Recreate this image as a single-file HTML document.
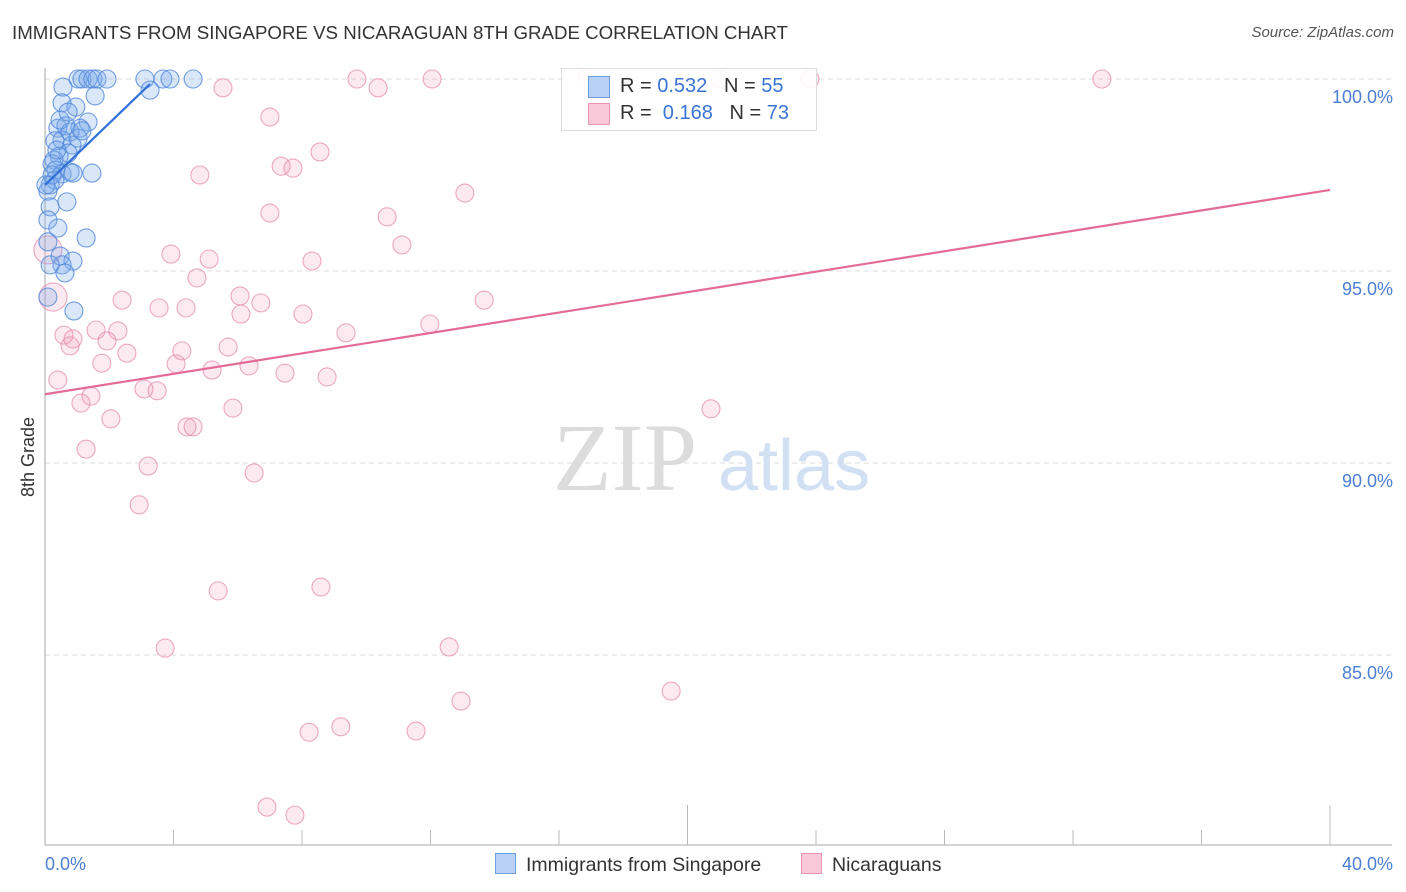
<!DOCTYPE html>
<html><head><meta charset="utf-8"><style>
body{margin:0;background:#fff;font-family:"Liberation Sans",sans-serif}
#wrap{position:relative;width:1406px;height:892px;overflow:hidden}
.t{position:absolute;white-space:nowrap}
</style></head><body>
<div id="wrap">
<div class="t" style="left:12px;top:22px;font-size:18.7px;color:#333">IMMIGRANTS FROM SINGAPORE VS NICARAGUAN 8TH GRADE CORRELATION CHART</div>
<div class="t" style="right:12px;top:24px;font-size:15px;color:#555;font-style:italic">Source: ZipAtlas.com</div>
<svg id="svg" width="1406" height="892" style="position:absolute;left:0;top:0"></svg>
</div>
<script>
const yTicks=[100,95,90,85];
const yTickLabels=["100.0%","95.0%","90.0%","85.0%"];
const xTickLabels=["0.0%","40.0%"];
const blueX=[1.03,1.15,1.34,1.49,1.62,1.93,3.11,3.67,3.89,4.61,3.27,0.56,1.56,0.53,0.96,1.34,0.40,0.65,1.09,0.78,0.53,0.31,0.84,0.72,0.44,0.28,0.22,0.34,0.53,0.78,0.87,1.46,0.31,0.16,0.09,0.68,0.16,0.09,0.40,1.28,0.09,0.47,0.87,0.53,0.62,0.90,0.09,0.16,0.22,0.03,0.37,1.03,1.15,0.47,0.72];
const blueY=[100,100,100,100,100,100,100,100,100,100,99.71,99.79,99.56,99.38,99.27,98.88,98.72,98.78,98.72,98.62,98.41,98.39,98.28,98.07,97.99,97.89,97.79,97.63,97.53,97.58,97.55,97.55,97.37,97.24,97.08,96.80,96.67,96.33,96.12,95.86,95.76,95.39,95.26,95.16,94.95,93.96,94.32,95.16,97.50,97.24,98.15,98.46,98.65,98.93,99.14];
const pinkX=[5.54,7.00,9.71,10.37,12.05,16.87,21.01,23.81,32.90,4.82,7.35,7.72,8.56,13.07,7.00,10.65,11.11,3.92,5.11,8.31,4.73,6.07,6.72,2.40,3.55,4.39,6.10,8.03,13.67,11.98,9.37,1.59,2.27,0.59,0.87,0.78,1.93,4.26,5.70,2.55,1.77,4.08,5.20,6.35,7.47,8.78,0.40,3.08,3.49,1.43,1.12,5.85,20.73,2.05,4.42,4.61,1.28,3.21,6.51,2.93,5.39,8.59,3.74,12.58,19.49,12.95,8.22,9.21,11.55,6.91,7.78,0.09,0.25];
const pinkY=[99.77,99.01,100,99.77,100,100,100,100,100,97.50,97.73,97.68,98.10,97.03,96.51,96.41,95.68,95.44,95.31,95.26,94.82,94.35,94.17,94.24,94.04,94.04,93.88,93.88,94.24,93.62,93.39,93.46,93.44,93.33,93.23,93.05,93.18,92.92,93.02,92.86,92.60,92.58,92.42,92.53,92.34,92.24,92.16,91.93,91.88,91.74,91.56,91.43,91.41,91.15,90.94,90.94,90.36,89.92,89.74,88.91,86.67,86.77,85.18,85.21,84.06,83.80,82.99,83.13,83.02,81.04,80.83,95.55,94.32];
const blueTrendX=[0,3.27], blueTrendY=[97.24,99.87];
const pinkTrendX=[0,40], pinkTrendY=[91.79,97.11];
const X=v=>45+v*32.125, Y=v=>79+(100-v)*38.4;
const svg=document.getElementById('svg'), NS='http://www.w3.org/2000/svg';
function mk(tag,a,parent){const e=document.createElementNS(NS,tag);for(const k in a)e.setAttribute(k,a[k]);(parent||svg).appendChild(e);return e;}
yTicks.forEach((v,i)=>{
 const l=mk('line',{x1:45,x2:1392,y1:Y(v),y2:Y(v),stroke:'#ddd','stroke-dasharray':'5,4'});
 
 
 const t=mk('text',{x:1393,y:Y(v)+24,'text-anchor':'end','font-size':18,fill:'#4a7fd4','font-family':'Liberation Sans'});
 t.textContent=yTickLabels[i];
 
 
});
let ax=mk('line',{x1:45,x2:45,y1:68,y2:845,stroke:'#aaa'});


ax=mk('line',{x1:45,x2:1392,y1:845,y2:845,stroke:'#aaa'});


for(let i=1;i<=10;i++){
 const x=X(i*4);const tall=(i==5||i==10);
 const tk=mk('line',{x1:x,x2:x,y1:tall?805:830,y2:845,stroke:'#bbb'});
 
 
}
[[0,'start',45],[1,'end',1393]].forEach(([i,a,x])=>{
 const t=mk('text',{x:x,y:870,'text-anchor':a,'font-size':18,fill:'#4a7fd4','font-family':'Liberation Sans'});
 t.textContent=xTickLabels[i];
 
 
});
const yt=mk('text',{x:0,y:0,transform:'translate(34,457) rotate(-90)','text-anchor':'middle','font-size':18,fill:'#333','font-family':'Liberation Sans'});
yt.textContent='8th Grade';


const wm=mk('text',{x:553,y:490,'font-size':96,fill:'#dcdcdc','font-family':'Liberation Serif'});
wm.textContent='ZIP';


const wm2=mk('text',{x:718,y:490,'font-size':72,fill:'#d2e0f4','font-family':'Liberation Sans'});
wm2.textContent='atlas';


pinkX.forEach((v,i)=>{
 const c=mk('circle',{cx:X(v),cy:Y(pinkY[i]),r:i>=71?14:9,fill:'rgba(240,150,180,0.2)',stroke:'rgba(230,140,175,0.75)','stroke-width':1.1});
 
 
});
blueX.forEach((v,i)=>{
 const c=mk('circle',{cx:X(v),cy:Y(blueY[i]),r:9,fill:'rgba(120,168,235,0.28)',stroke:'rgba(80,135,220,0.8)','stroke-width':1.1});
 
 
});
let tl=mk('line',{x1:X(pinkTrendX[0]),y1:Y(pinkTrendY[0]),x2:X(pinkTrendX[1]),y2:Y(pinkTrendY[1]),stroke:'#e46b98','stroke-width':2.2});


tl=mk('line',{x1:X(blueTrendX[0]),y1:Y(blueTrendY[0]),x2:X(blueTrendX[1]),y2:Y(blueTrendY[1]),stroke:'#2f6fd6','stroke-width':2.2});


</script>
<div class="t" style="left:561px;top:68px;width:254px;height:61px;border:1px solid #ddd;background:rgba(255,255,255,0.9);font-size:20px;color:#333">
 <div style="position:absolute;left:26px;top:7px;width:20px;height:20px;background:#b9d1f5;border:1px solid #6e9de2"></div>
 <div class="t" style="left:58px;top:6px">R = <span style="color:#3a74d6">0.532</span>&nbsp;&nbsp; N = <span style="color:#3a74d6">55</span></div>
 <div style="position:absolute;left:26px;top:34px;width:20px;height:20px;background:#f8c8d8;border:1px solid #e994b3"></div>
 <div class="t" style="left:58px;top:33px">R = &nbsp;<span style="color:#3a74d6">0.168</span>&nbsp;&nbsp; N = <span style="color:#3a74d6">73</span></div>
</div>
<div class="t" style="left:495px;top:853px;font-size:19.5px;color:#333"><span style="display:inline-block;width:19px;height:19px;background:#b9d1f5;border:1px solid #6e9de2;vertical-align:-3px;margin-right:10px"></span>Immigrants from Singapore</div>
<div class="t" style="left:801px;top:853px;font-size:19.5px;color:#333"><span style="display:inline-block;width:19px;height:19px;background:#f8c8d8;border:1px solid #e994b3;vertical-align:-3px;margin-right:10px"></span>Nicaraguans</div>
</body></html>
